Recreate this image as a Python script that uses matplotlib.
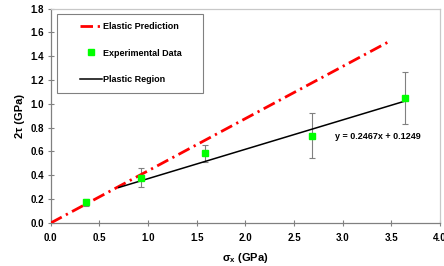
import numpy as np
import matplotlib
matplotlib.use("Agg")
import matplotlib.pyplot as plt
from matplotlib.patches import Rectangle

plt.rcParams['font.family'] = ['Liberation Sans', 'DejaVu Sans']
plt.rcParams['font.weight'] = 'bold'
plt.rcParams['mathtext.default'] = 'regular'

# experimental points
exp_x = [0.36, 0.925, 1.588, 2.68, 3.64]
exp_y = [0.174, 0.378, 0.586, 0.734, 1.049]
exp_err = [0.03, 0.08, 0.07, 0.185, 0.222]

# elastic prediction line
elastic_x = [0.0, 3.5]
elastic_y = [0.0, 1.533]

# plastic region fit  y = 0.2467x + 0.1249
plastic_x = [0.7, 3.64]
plastic_y = [0.298, 1.023]

xticks = [0.0, 0.5, 1.0, 1.5, 2.0, 2.5, 3.0, 3.5, 4.0]
yticks = [0.0, 0.2, 0.4, 0.6, 0.8, 1.0, 1.2, 1.4, 1.6, 1.8]

fig = plt.figure(figsize=(4.44, 2.66), dpi=100)
ax = fig.add_axes([0.1142, 0.1617, 0.8768, 0.8063])

ax.plot(elastic_x, elastic_y, color='red', lw=2.0,
        linestyle=(0, (4.5, 1.7, 0.8, 1.7)), label='Elastic Prediction', zorder=3)
ax.errorbar(exp_x, exp_y, yerr=exp_err, fmt='none', ecolor='gray', elinewidth=0.8,
            capsize=2, capthick=0.8, zorder=2)
ax.plot(exp_x, exp_y, 's', color='#00ff00', ms=5, mec='#00ff00',
        label='Experimental Data', zorder=4)
ax.plot(plastic_x, plastic_y, color='black', lw=1.1, label='Plastic Region', zorder=3)

ax.text(2.92, 0.726, 'y = 0.2467x + 0.1249', fontsize=6.5, fontweight='bold',
        ha='left', va='center')

ax.set_xlim(0, 4.0)
ax.set_ylim(0, 1.8)
ax.set_xticks(xticks)
ax.set_yticks(yticks)
ax.set_xticklabels(['%.1f' % v for v in xticks], fontsize=7, fontweight='bold')
ax.set_yticklabels(['%.1f' % v for v in yticks], fontsize=7, fontweight='bold')
ax.tick_params(direction='inout', length=4, width=0.8, color='gray')
ax.tick_params(axis='x', pad=5)
ax.tick_params(axis='y', pad=3)

for s in ['left', 'bottom']:
    ax.spines[s].set_color('gray')
    ax.spines[s].set_linewidth(0.9)
for s in ['top', 'right']:
    ax.spines[s].set_color('#c8c8c8')
    ax.spines[s].set_linewidth(0.9)

ax.set_xlabel('σ$_x$ (GPa)', fontsize=8, fontweight='bold', labelpad=6)
ax.set_ylabel('2τ (GPa)', fontsize=8, fontweight='bold', labelpad=4)

ax.add_patch(Rectangle((0.0162, 0.606), 0.375, 0.368, transform=ax.transAxes,
                       facecolor='white', edgecolor='gray', lw=0.8, zorder=5))
leg = ax.legend(loc='upper left', bbox_to_anchor=(0.075, 0.935), frameon=False,
                fontsize=6.5, handlelength=2.4, handletextpad=0.2,
                labelspacing=1.9, borderpad=0, borderaxespad=0)
leg.set_zorder(6)

fig.savefig('out.png', dpi=100)
